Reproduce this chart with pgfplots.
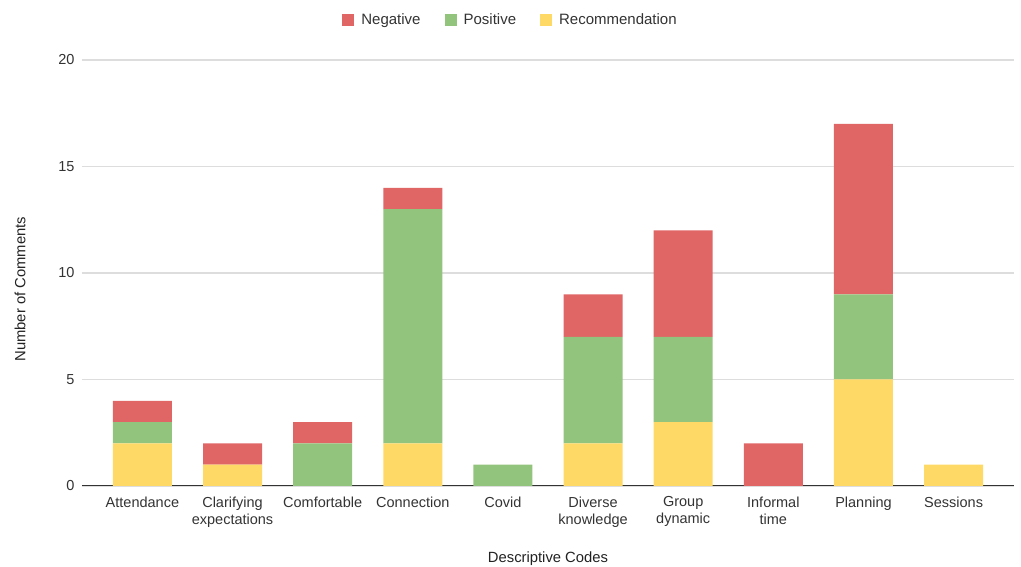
\documentclass[border=0pt]{standalone}
\usepackage{fontspec}
\setmainfont{Liberation Sans}
\usepackage{pgfplots}
\pgfplotsset{compat=1.18}

\definecolor{negred}{HTML}{E06666}
\definecolor{posgreen}{HTML}{93C47D}
\definecolor{recyellow}{HTML}{FFD966}
\definecolor{gridgray}{HTML}{DDDDDD}
\definecolor{basegray}{HTML}{333333}
\definecolor{txt}{HTML}{222222}
\definecolor{ticktxt}{HTML}{333333}

\pgfplotsset{
  sq legend/.style={legend image code/.code={\fill[##1] (0pt,-6pt) rectangle (12pt,6pt);}},
}

\begin{document}
\begin{tikzpicture}
\path[use as bounding box] (0,0) rectangle (1021pt,567pt);
\begin{axis}[
  at={(82pt,81pt)}, anchor=south west,
  scale only axis, width=932pt, height=426pt,
  ybar stacked, bar width=59pt,
  xmin=-0.67, xmax=9.67, ymin=0, ymax=20,
  xtick={0,...,9},
  xticklabels={Attendance, Clarifying\\expectations, Comfortable, Connection, Covid,
    Diverse\\knowledge, Group\\dynamic, Informal\\time, Planning, Sessions},
  ytick={0,5,10,15,20},
  major tick length=0pt,
  axis line style={draw=none},
  ymajorgrids, grid style={gridgray, line width=1.2pt},
  /pgf/number format/assume math mode=true,
  tick label style={font=\fontsize{14.5}{17}\selectfont, text=ticktxt},
  xticklabel style={align=center, yshift=-7pt},
  yticklabel style={xshift=-4pt},
  every axis y label/.style={at={(axis description cs:-0.0665,0.462)}, rotate=90, anchor=center,
    font=\fontsize{14.8}{17}\selectfont, text=txt},
  every axis x label/.style={at={(axis description cs:0.5,-0.171)}, anchor=center,
    font=\fontsize{14.8}{17}\selectfont, text=txt},
  ylabel={Number of Comments},
  xlabel={Descriptive Codes},
  legend columns=3, reverse legend,
  legend style={at={(axis description cs:0.4598,1.094)}, anchor=center, draw=none, fill=none,
    font=\fontsize{15}{17}\selectfont, text=ticktxt,
    /tikz/every odd column/.append style={column sep=5pt},
    /tikz/every even column/.append style={column sep=22pt}},
  legend cell align=left,
]
\addplot[fill=recyellow, draw=none, sq legend] coordinates
  {(0,2) (1,1) (2,0) (3,2) (4,0) (5,2) (6,3) (7,0) (8,5) (9,1)};
\addplot[fill=posgreen, draw=none, sq legend] coordinates
  {(0,1) (1,0) (2,2) (3,11) (4,1) (5,5) (6,4) (7,0) (8,4) (9,0)};
\addplot[fill=negred, draw=none, sq legend] coordinates
  {(0,1) (1,1) (2,1) (3,1) (4,0) (5,2) (6,5) (7,2) (8,8) (9,0)};
\legend{Recommendation, Positive, Negative}
\draw[basegray, line width=1.5pt] (axis cs:-0.67,0) -- (axis cs:9.67,0);
\end{axis}
\end{tikzpicture}
\end{document}
